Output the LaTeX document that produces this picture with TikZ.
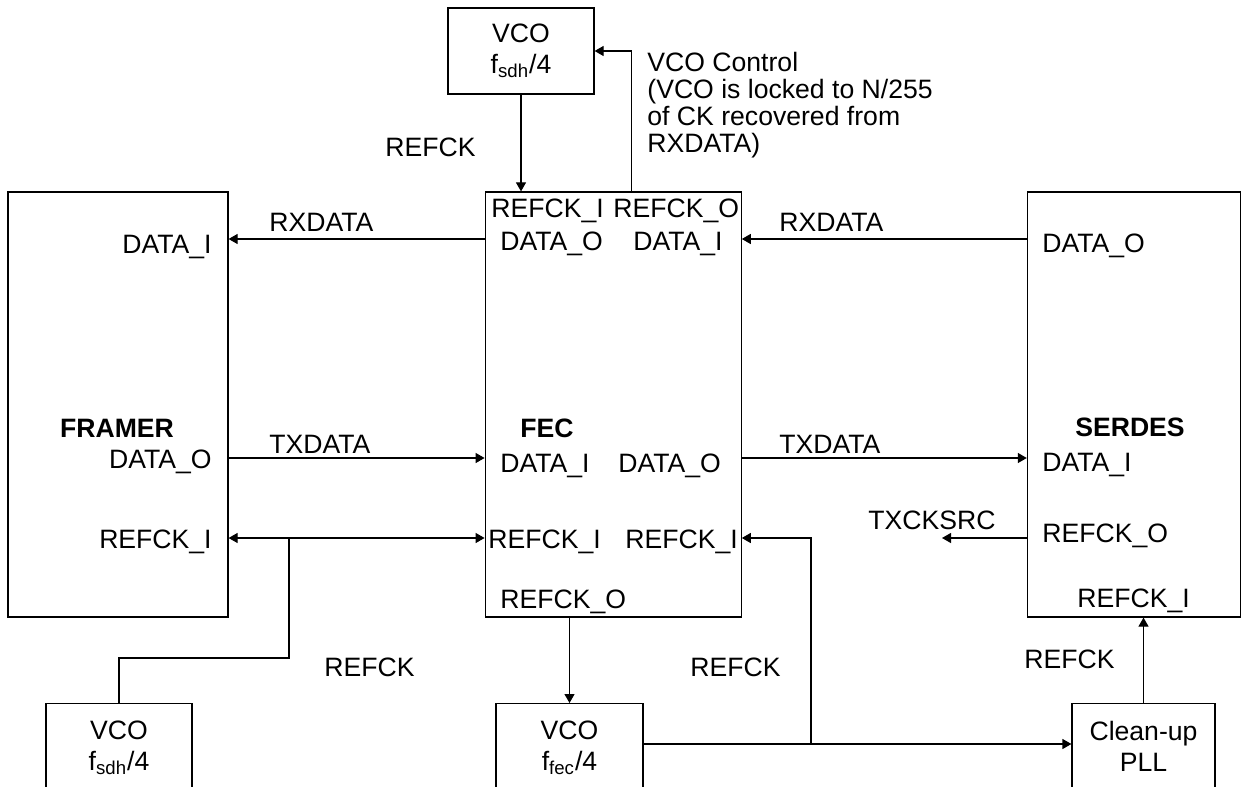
\documentclass[tikz,border=0pt]{standalone}
\usepackage{fontspec}
\setmainfont{Liberation Sans}
\usetikzlibrary{
  arrows.meta,
  positioning
}

\begin{document}
\begin{tikzpicture}[
  x=0.5pt,y=-0.5pt,
  >={Triangle[length=4.5pt,width=5pt]},
  every node/.style={font=\fontsize{13.3}{15.5}\selectfont},
  block/.style={draw,line width=0.6pt,minimum height=212.5pt,inner sep=0pt},
  unit/.style={draw,line width=0.6pt,align=center,inner sep=0pt},
  port/.style={inner sep=0pt},
  title/.style={inner sep=0pt,font=\fontsize{13.3}{15.5}\selectfont\bfseries},
  sig/.style={inner sep=0pt},
  wire/.style={line width=0.6pt},
  arrow/.style={wire,->}
]
\useasboundingbox (0,0) rectangle (1256,786);
\clip (0,0) rectangle (1256,786);

% main blocks
\node[block,minimum width=110pt] (framer) at (118,404.5) {};
\node[block,minimum width=128pt,right=128pt of framer] (fec) {};
\node[block,minimum width=106.5pt,right=142.5pt of fec] (serdes) {};

% clock units
\node[unit,minimum width=73pt,minimum height=43pt] (vcotop) at (521,51)
  {VCO\\f\textsubscript{sdh}/4};
\node[unit,minimum width=73pt,minimum height=44pt,anchor=north] (vcol)
  at (119,703) {VCO\\f\textsubscript{sdh}/4};
\node[unit,minimum width=73.5pt,minimum height=44pt,anchor=north] (vcom)
  at (569.5,703) {VCO\\f\textsubscript{fec}/4};
\node[unit,minimum width=71.5pt,minimum height=42.5pt,anchor=north] (pll)
  at (1143.5,703) {Clean-up\\PLL};

% ports
\node[port,anchor=base east] (fr-di) at (212,253) {DATA\_I};
\node[title,anchor=base] (fr-name) at (117,437) {FRAMER};
\node[port,anchor=base east] (fr-do) at (212,468) {DATA\_O};
\node[port,anchor=base east] (fr-ck) at (212,548) {REFCK\_I};

\node[port,anchor=base west] (fe-cki) at (491,217) {REFCK\_I};
\node[port,anchor=base west] (fe-cko) at (613,217) {REFCK\_O};
\node[port,anchor=base west] (fe-do) at (500,250) {DATA\_O};
\node[port,anchor=base west] (fe-di) at (633,250) {DATA\_I};
\node[title,anchor=base] (fe-name) at (547,437) {FEC};
\node[port,anchor=base west] (fe-di2) at (500,472) {DATA\_I};
\node[port,anchor=base west] (fe-do2) at (618,472) {DATA\_O};
\node[port,anchor=base west] (fe-ck1) at (488,548) {REFCK\_I};
\node[port,anchor=base west] (fe-ck2) at (625,548) {REFCK\_I};
\node[port,anchor=base west] (fe-cko2) at (500,608) {REFCK\_O};

\node[port,anchor=base west] (sd-do) at (1042,252) {DATA\_O};
\node[title,anchor=base] (sd-name) at (1130,436) {SERDES};
\node[port,anchor=base west] (sd-di) at (1042,471) {DATA\_I};
\node[port,anchor=base west] (sd-cko) at (1042,542) {REFCK\_O};
\node[port,anchor=base west] (sd-cki) at (1077,607) {REFCK\_I};

% signal names
\node[sig,anchor=base west] (rx-l) at (269,231) {RXDATA};
\node[sig,anchor=base west] (tx-l) at (269,453) {TXDATA};
\node[sig,anchor=base west] (rx-r) at (779,231) {RXDATA};
\node[sig,anchor=base west] (tx-r) at (779,453) {TXDATA};
\node[sig,anchor=base west] (txcksrc) at (868,529) {TXCKSRC};
\node[sig,anchor=base west] (ck-top) at (385,157) {REFCK};
\node[sig,anchor=base west] (ck-l) at (324,676) {REFCK};
\node[sig,anchor=base west] (ck-m) at (690,676) {REFCK};
\node[sig,anchor=base west] (ck-r) at (1024,668) {REFCK};
\node[sig,align=left,anchor=north west,
  font=\fontsize{13.3}{13.5}\selectfont] (vcoctl) at (647,52)
  {VCO Control\\(VCO is locked to N/255\\of CK recovered from\\RXDATA)};

% rows and junctions
\coordinate (rx) at (0,239);
\coordinate (tx) at (0,458);
\coordinate (ck) at (0,538);
\coordinate (cl) at (0,744);
\coordinate (jl) at (289,538);
\coordinate (jr) at (811,744);
\coordinate (txck) at (942,538);

\draw[arrow] (vcotop.south) -- (vcotop.south |- fec.north);
\draw[arrow] ([xshift=9pt]fec.north) |- (vcotop.east);
\draw[arrow] (serdes.west |- rx) -- (fec.east |- rx);
\draw[arrow] (fec.west |- rx) -- (framer.east |- rx);
\draw[arrow] (framer.east |- tx) -- (fec.west |- tx);
\draw[arrow] (fec.east |- tx) -- (serdes.west |- tx);
\draw[wire,<->] (framer.east |- ck) -- (fec.west |- ck);
\draw[wire] (jl) -- ++(0,120) -| (vcol.north);
\draw[arrow] (vcom.north |- fec.south) -- (vcom.north);
\draw[arrow] (vcom.east |- cl) -- (pll.west |- cl);
\draw[arrow] (jr) |- (fec.east |- ck);
\draw[arrow] (serdes.west |- ck) -- (txck);
\draw[arrow] (pll.north) -- (pll.north |- serdes.south);
\end{tikzpicture}
\end{document}
